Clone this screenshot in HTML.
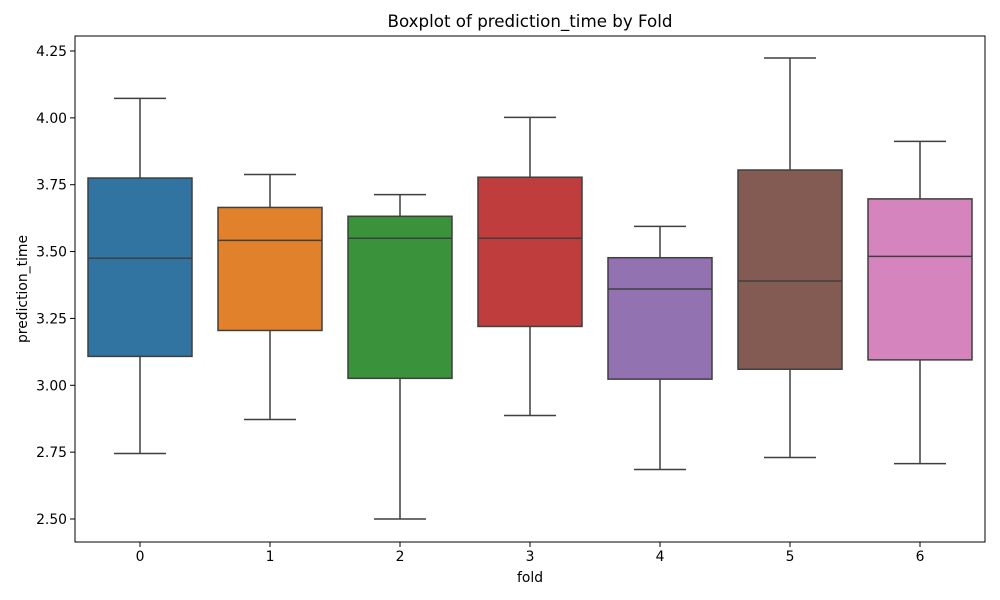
<!DOCTYPE html>
<html><head><meta charset="utf-8"><style>
html,body{margin:0;padding:0;background:#fff;}
svg{display:block;font-family:"DejaVu Sans","Liberation Sans",sans-serif;}
</style></head><body>
<svg id="chart" width="1000" height="600" viewBox="0 0 1000 600">
<rect x="0" y="0" width="1000" height="600" fill="#fff"/>
<text x="530" y="27" font-size="16.7" text-anchor="middle">Boxplot of prediction_time by Fold</text>
<g id="marks"></g>
<g id="axes"></g>
<rect x="75" y="36" width="910" height="506" fill="none" stroke="#000" stroke-width="1"/>
<text x="530" y="582" font-size="13.9" text-anchor="middle">fold</text>
<text transform="translate(27,289) rotate(-90)" font-size="13.9" text-anchor="middle">prediction_time</text>
</svg>
<script>
const categories = ["0","1","2","3","4","5","6"];
const whiskerLow = [2.745, 2.872, 2.50, 2.887, 2.685, 2.730, 2.707];
const q1 = [3.108, 3.205, 3.026, 3.220, 3.023, 3.060, 3.095];
const medians = [3.475, 3.542, 3.550, 3.550, 3.360, 3.390, 3.482];
const q3 = [3.775, 3.665, 3.632, 3.778, 3.477, 3.805, 3.697];
const whiskerHigh = [4.073, 3.788, 3.713, 4.002, 3.594, 4.224, 3.912];
const yTicks = [2.50, 2.75, 3.00, 3.25, 3.50, 3.75, 4.00, 4.25];
const colors = ["#3274a1","#e1812c","#3a923a","#c03d3e","#9372b2","#845b53","#d684bd"];

const NS = "http://www.w3.org/2000/svg";
const L = 75, R = 985, T = 36, B = 542;
const step = (R - L) / categories.length;
function xScale(i){ return L + step * (i + 0.5); }
function yScale(v){ return 519 - (v - 2.5) * (468 / 1.75); }
function mk(tag, attrs, parent){
  const e = document.createElementNS(NS, tag);
  for (const k in attrs) e.setAttribute(k, attrs[k]);
  parent.appendChild(e);
  return e;
}
const marks = document.getElementById("marks");
const axes = document.getElementById("axes");
const lc = "#3f3f3f";
categories.forEach((c, i) => {
  const g = mk("g", {}, marks);
  
  
  const cx = xScale(i), hw = step * 0.4;
  const w1 = mk("line", {x1:cx, x2:cx, y1:yScale(q1[i]), y2:yScale(whiskerLow[i]), stroke:lc, "stroke-width":1.5}, g);
  
  
  const w2 = mk("line", {x1:cx, x2:cx, y1:yScale(q3[i]), y2:yScale(whiskerHigh[i]), stroke:lc, "stroke-width":1.5}, g);
  
  
  const c1 = mk("line", {x1:cx-hw/2, x2:cx+hw/2, y1:yScale(whiskerLow[i]), y2:yScale(whiskerLow[i]), stroke:lc, "stroke-width":1.5}, g);
  
  
  const c2 = mk("line", {x1:cx-hw/2, x2:cx+hw/2, y1:yScale(whiskerHigh[i]), y2:yScale(whiskerHigh[i]), stroke:lc, "stroke-width":1.5}, g);
  
  
  const b = mk("rect", {x:cx-hw, y:yScale(q3[i]), width:2*hw, height:yScale(q1[i])-yScale(q3[i]), fill:colors[i], stroke:lc, "stroke-width":1.5}, g);
  
  
  const m = mk("line", {x1:cx-hw, x2:cx+hw, y1:yScale(medians[i]), y2:yScale(medians[i]), stroke:lc, "stroke-width":1.5}, g);
  
  
  const t = mk("line", {x1:cx, x2:cx, y1:B, y2:B+5, stroke:"#000", "stroke-width":1}, axes);
  
  
  const tl = mk("text", {x:cx, y:B+19, "font-size":13.9, "text-anchor":"middle"}, axes);
  tl.textContent = c;
  
  
});
yTicks.forEach(v => {
  const y = yScale(v);
  const t = mk("line", {x1:L-5, x2:L, y1:y, y2:y, stroke:"#000", "stroke-width":1}, axes);
  
  
  const tl = mk("text", {x:L-8, y:y+5, "font-size":13.9, "text-anchor":"end"}, axes);
  tl.textContent = v.toFixed(2);
  
  
});
</script>
</body></html>
